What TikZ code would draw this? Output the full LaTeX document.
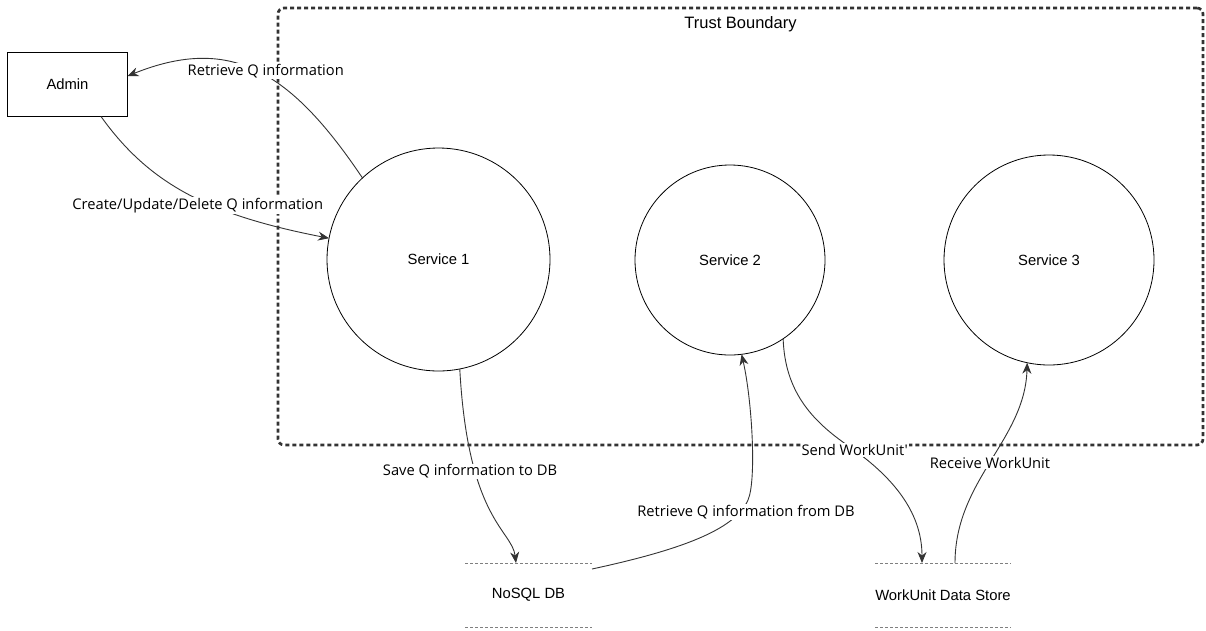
\documentclass[tikz,border=0pt]{standalone}
\usepackage{fontspec}
\setmainfont{Liberation Sans}
\newfontfamily\labelfont{Open Sans}
\usetikzlibrary{arrows.meta}
\definecolor{flowgray}{HTML}{333333}
\definecolor{storegray}{HTML}{7F7F7F}
\begin{document}
\begin{tikzpicture}[x=1pt,y=-1pt,
  nodefont/.style={font=\fontsize{14.8}{17}\selectfont},
  proc/.style={circle,draw=black,line width=0.8pt,fill=white,outer sep=0pt,inner sep=0pt,nodefont},
  actor/.style={rectangle,draw=black,line width=0.8pt,minimum width=120pt,minimum height=64pt,outer sep=0pt,nodefont},
  store/.style={minimum width=127pt,minimum height=64pt,inner sep=0pt,outer sep=0pt,nodefont},
  storeline/.style={draw=storegray,dash pattern=on 3pt off 2pt,line width=0.8pt},
  flow/.style={draw=flowgray,line width=0.9pt,-{Stealth[length=11pt,width=9pt,inset=3.5pt]}},
  flowlabel/.style={fill=white,inner sep=1pt,text=black,font=\labelfont\fontsize{14.7}{17}\selectfont},
  boundary/.style={draw=flowgray,line width=2.7pt,dash pattern=on 4pt off 3pt,rounded corners=6pt,
    anchor=north west,inner sep=0pt,outer sep=0pt}
]
\useasboundingbox (0,0) rectangle (1206,630);

% trust boundary
\node[boundary,minimum width=925pt,minimum height=437pt] (tb) at (278,8) {};
\node[font=\fontsize{16.5}{19}\selectfont] (tbtitle) at (740.5,24) {Trust Boundary};

% external entity, processes and data stores
\node[actor] (admin) at (67.5,84.5) {Admin};
\node[proc,minimum size=223pt] (s1) at (438.5,259.5) {Service 1};
\node[proc,minimum size=190pt] (s2) at (730,260) {Service 2};
\node[proc,minimum size=210pt] (s3) at (1049,260) {Service 3};

\node[store] (db1) at (528.5,595) {NoSQL DB};
\node[store] (db2) at (943,595) {WorkUnit Data Store};
\foreach \s in {db1,db2}{
  \draw[storeline] (\s.north west) -- (\s.north east);
  \draw[storeline] (\s.south west) -- (\s.south east);
}

% data flows
\draw[flow] (s1.133) .. controls (290,70) and (230,35) .. ([yshift=8.5pt]admin.east);
\draw[flow] ([xshift=33.5pt]admin.south) .. controls (150,185) and (210,215) .. (s1.169);
\draw[flow] (s1.-79) .. controls (468,520) and (512,530) .. ([xshift=-12.5pt]db1.north);
\draw[flow] ([yshift=-6pt]db1.north east) .. controls (680,550) and (735,530) .. (748,500)
  .. controls (756.7,480) and (752,400) .. (s2.-83);
\draw[flow] (s2.-56) .. controls (785,390) and (810,420) .. (850,447)
  .. controls (890,475) and (922,510) .. ([xshift=-21pt]db2.north);
\draw[flow] ([xshift=12pt]db2.north) .. controls (955,480) and (1025,440) .. (s3.-102);

% flow labels
\node[flowlabel] (l1) at (265.8,71) {Retrieve Q information};
\node[flowlabel] (l2) at (197.7,205.7) {Create/Update/Delete Q information};
\node[flowlabel] (l3) at (470,471.5) {Save Q information to DB};
\node[flowlabel] (l4) at (746,512) {Retrieve Q information from DB};
\node[flowlabel] (l5) at (854.7,450) {Send WorkUnit'};
\node[flowlabel] (l6) at (990,462.7) {Receive WorkUnit};
\end{tikzpicture}
\end{document}
